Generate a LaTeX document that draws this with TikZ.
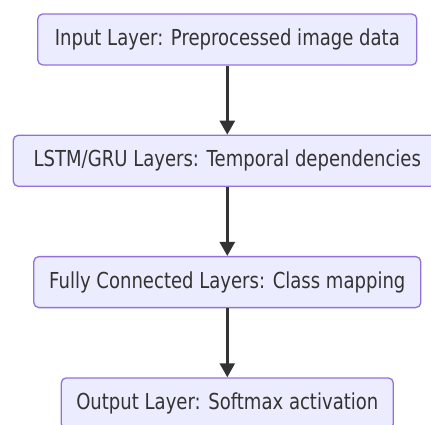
\documentclass[tikz,border=0pt]{standalone}
\usepackage{fontspec}
\setmainfont{DejaVu Sans}[FakeStretch=0.82]
\usetikzlibrary{positioning,arrows.meta}

\definecolor{boxfill}{HTML}{ECECFF}
\definecolor{boxline}{HTML}{9370DB}
\definecolor{inkgray}{HTML}{333333}

\tikzset{
    layerbox/.style={draw=boxline, fill=boxfill, line width=1.3pt,
        rounded corners=5pt, minimum height=51pt, inner xsep=0pt,
        text=inkgray, font=\fontsize{22}{26}\selectfont},
    flow/.style={-{Triangle[length=14pt,width=15pt]}, line width=2.6pt, draw=inkgray}
}

\begin{document}
\begin{tikzpicture}[node distance=69pt]
    \useasboundingbox (0,0) rectangle (431pt,-425pt);

    \node[layerbox, minimum width=379pt] (input) at (227.3pt,-39.5pt)
        {Input Layer: Preprocessed image data};
    \node[layerbox, minimum width=428pt, below=of input] (lstm)
        {LSTM/GRU Layers: Temporal dependencies};
    \node[layerbox, minimum width=387pt, below=of lstm] (dense)
        {Fully Connected Layers: Class mapping};
    \node[layerbox, minimum width=332pt, below=of dense] (output)
        {Output Layer: Softmax activation};

    \draw[flow] (input) -- (lstm);
    \draw[flow] (lstm) -- (dense);
    \draw[flow] (dense) -- (output);
\end{tikzpicture}
\end{document}
